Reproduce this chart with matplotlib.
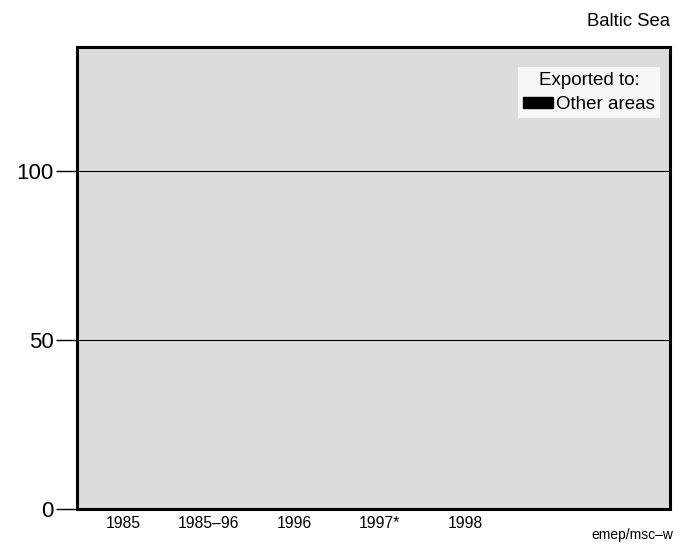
import numpy as np
import matplotlib.pyplot as plt
from matplotlib.patches import Patch

plt.rcParams['font.family'] = ['Liberation Sans', 'DejaVu Sans']

# Data: deposition exported to other areas (all zero for Baltic Sea)
years = ["1985", "1985\u201396", "1996", "1997*", "1998"]
other_areas = [0, 0, 0, 0, 0]

fig = plt.figure(figsize=(6.87, 5.48), dpi=100)
ax = fig.add_axes([77/687, 1 - 509/548, 593/687, 462/548])
ax.set_facecolor('#dcdcdc')

x = np.arange(len(years))
ax.bar(x, other_areas, width=0.6, color='black')

ax.set_xlim(-0.54, 6.4)
ax.set_ylim(0, 136.7)
ax.set_yticks([0, 50, 100])
ax.set_yticklabels(["0", "50", "100"], fontsize=16)
ax.set_xticks(x)
ax.set_xticklabels(years, fontsize=11.3)
ax.tick_params(axis='x', length=0, pad=5)
ax.tick_params(axis='y', length=15, width=1, pad=2)
for yv in [50, 100]:
    ax.axhline(yv, color='black', lw=0.8)
for s in ax.spines.values():
    s.set_linewidth(2.2)

leg = ax.legend(handles=[Patch(color='black', label='Other areas')],
                title='Exported to:', loc='upper right',
                bbox_to_anchor=(0.983, 0.957), fontsize=13.5, title_fontsize=13.5,
                frameon=True, fancybox=False, edgecolor='white',
                handlelength=1.6, handleheight=0.53, handletextpad=0.2,
                borderpad=0.25, labelspacing=0.42, borderaxespad=0)
leg.get_frame().set_facecolor('white')
leg.get_frame().set_linewidth(0)

fig.text(670/687, 1 - 22/548, "Baltic Sea", ha='right', va='center', fontsize=13.3)
fig.text(673/687, 1 - 535/548, "emep/msc\u2013w", ha='right', va='center', fontsize=10)

fig.savefig("out.png", dpi=100)
